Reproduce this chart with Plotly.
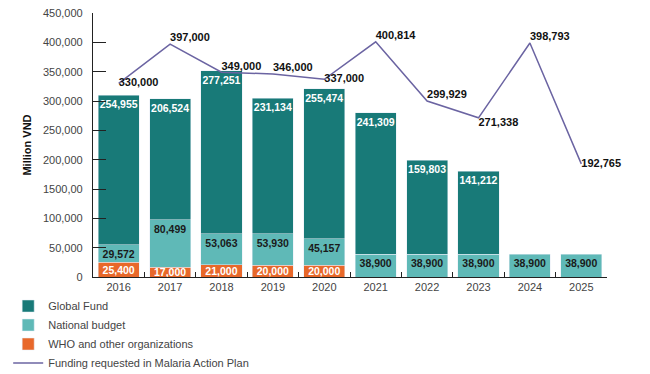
import plotly.graph_objects as go

years = ["2016", "2017", "2018", "2019", "2020", "2021", "2022", "2023", "2024", "2025"]
global_fund = [254955, 206524, 277251, 231134, 255474, 241309, 159803, 141212, None, None]
national = [29572, 80499, 53063, 53930, 45157, 38900, 38900, 38900, 38900, 38900]
who = [25400, 17000, 21000, 20000, 20000, None, None, None, None, None]
requested = [330000, 397000, 349000, 346000, 337000, 400814, 299929, 271338, 398793, 192765]

tick_vals = [0, 50000, 100000, 150000, 200000, 250000, 300000, 350000, 400000, 450000]
tick_text = ["0", "50,000", "100,000", "1500,00", "200,000", "250,000", "300,000", "350,000", "400,000", "450,000"]

label_pos = ["middle right", "top right", "top right", "top right", "middle right",
             "top right", "top right", "bottom right", "top right", "middle right"]

C_GF = "#187a78"
C_NB = "#5fb9b7"
C_WHO = "#e8682a"
C_LINE = "#6b64a2"
FONT = "Liberation Sans, Arial, sans-serif"

def fmt(v):
    return None if v is None else f"{v:,}"

def tf(color, size=10.5):
    return dict(color=color, size=size, family=FONT, weight="bold")

fig = go.Figure()
fig.add_trace(go.Bar(
    x=years, y=who, name="WHO and other organizations", marker_color=C_WHO,
    text=[fmt(v) for v in who], textposition="inside", insidetextanchor="middle",
    textangle=0, constraintext="none",
    textfont=tf("white"), insidetextfont=tf("white"),
    legendrank=3,
))
fig.add_trace(go.Bar(
    x=years, y=national, name="National budget", marker_color=C_NB,
    text=[fmt(v) for v in national], textposition="inside", insidetextanchor="end",
    textangle=0, constraintext="none",
    textfont=tf("#1a1a1a"), insidetextfont=tf("#1a1a1a"),
    legendrank=2,
))
fig.add_trace(go.Bar(
    x=years, y=global_fund, name="Global Fund", marker_color=C_GF,
    text=[fmt(v) for v in global_fund], textposition="inside", insidetextanchor="end",
    textangle=0, constraintext="none",
    textfont=tf("white"), insidetextfont=tf("white"),
    legendrank=1,
))
fig.add_trace(go.Scatter(
    x=years, y=requested, name="Funding requested in Malaria Action Plan",
    mode="lines+text", line=dict(color=C_LINE, width=1.5),
    text=[fmt(v) for v in requested], textposition=label_pos,
    textfont=tf("#111111", 11),
    cliponaxis=False, legendrank=4,
))

# the page body has an 8px default margin, so the figure is 8px smaller each way
fig.update_layout(
    width=642, height=366,
    margin=dict(l=85, r=43, t=5, b=97, autoexpand=False),
    barmode="stack", bargap=0.2,
    plot_bgcolor="white", paper_bgcolor="white",
    font=dict(family=FONT, size=11, color="#444444"),
    uniformtext=dict(minsize=10, mode="show"),
    showlegend=True,
    legend=dict(
        orientation="v", traceorder="normal", x=-0.165, xanchor="left",
        y=-0.055, yanchor="top", font=dict(size=11, color="#444444"),
        tracegroupgap=0, bgcolor="rgba(0,0,0,0)",
    ),
    xaxis=dict(
        showline=True, linecolor="#222222", linewidth=1.2,
        ticks="inside", tickson="boundaries", ticklen=5, tickcolor="#222222",
        tickfont=dict(size=11, color="#444444"), showgrid=False,
        ticklabeloverflow="allow",
    ),
    yaxis=dict(
        range=[0, 450000], tickvals=tick_vals, ticktext=tick_text,
        showline=True, linecolor="#222222", linewidth=1.2,
        ticks="inside", ticklen=13, tickcolor="#222222",
        tickfont=dict(size=11, color="#444444"), showgrid=False,
        title=dict(text="<b>Million VND</b>", font=dict(size=11, color="#111111"), standoff=9),
        ticklabelstandoff=7, ticklabeloverflow="allow",
    ),
)

fig.write_html("out.html")
